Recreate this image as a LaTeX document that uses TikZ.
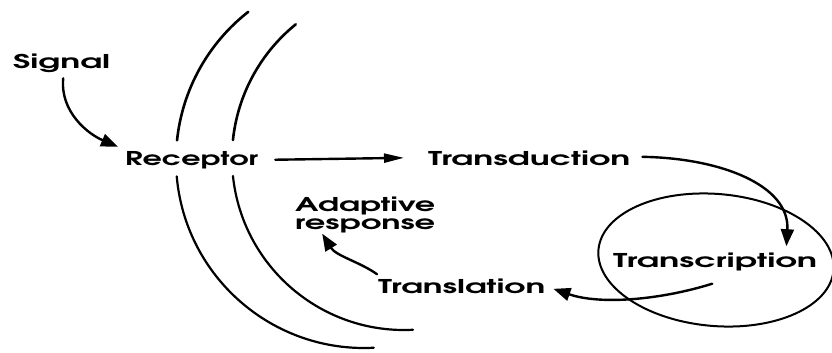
\documentclass[tikz,border=0pt]{standalone}
\usepackage{fontspec}
\usepackage{graphicx}
\IfFontExistsTF{TeX Gyre Adventor}{\setmainfont{TeX Gyre Adventor}}{\setmainfont{Poppins}}
\usetikzlibrary{arrows.meta}
\newcommand{\wtxt}[2]{\resizebox{#1pt}{\height}{#2}}
\begin{document}
\begin{tikzpicture}[x=1pt,y=-1pt,line cap=round,
  lbl/.style={anchor=base west,inner sep=0pt,font=\fontsize{19}{18}\selectfont\bfseries},
  mem/.style={line width=2.6pt},
  cell/.style={line width=2pt},
  conn/.style={line width=2.4pt,-{Triangle[length=17pt,width=13pt]}},
  thinhead/.style={-{Triangle[length=20pt,width=9pt]}}]
\useasboundingbox (0,0) rectangle (832,353);
% labels
\node[lbl] (signal) at (13,68) {\wtxt{97}{Signal}};
\node[lbl] (receptor) at (125,165) {\wtxt{133}{Receptor}};
\node[lbl] (transduction) at (428,165) {\wtxt{202}{Transduction}};
\node[lbl] (transcription) at (613,267) {\wtxt{204}{Transcription}};
\node[lbl] (translation) at (378,293) {\wtxt{167}{Translation}};
\node[lbl] (adaptive) at (295,211) {\vtop{\hbox{\wtxt{140}{Adaptive}}\hbox{\wtxt{140}{response}}}};
% membrane
\draw[mem] (364,160) ++(232:188) arc[start angle=232,end angle=186,radius=188];
\draw[mem,line width=2.2pt] (364,160) ++(175:188) arc[start angle=175,end angle=87,radius=188];
\draw[mem] (404,158) ++(231:172) arc[start angle=231,end angle=186,radius=172];
\draw[mem,line width=2.2pt] (404,158) ++(174:172) arc[start angle=174,end angle=87,radius=172];
% nucleus
\draw[cell,rotate around={-5:(716,260)}] (716,260) ellipse [x radius=118,y radius=66];
% connectors
\draw[conn] ([xshift=1.5pt,yshift=-6pt]signal.south) .. controls (60,112) and (88,134) .. ([xshift=-7pt,yshift=4pt]receptor.north west);
\draw[conn,thinhead] ([xshift=17pt]receptor.east) -- ([xshift=-24pt]transduction.west);
\draw[conn] ([xshift=12pt,yshift=1pt]transduction.east) .. controls (720,158) and (790,185) .. ([xshift=-31pt,yshift=6pt]transcription.north east);
\draw[conn] ([xshift=-3pt,yshift=-13pt]transcription.south) .. controls (660,300) and (600,305) .. ([xshift=8pt,yshift=-3pt]translation.east);
\draw[conn] ([xshift=-1pt,yshift=4pt]translation.north west) .. controls (360,262) and (336,256) .. ([xshift=-43pt,yshift=-1pt]adaptive.south);
\end{tikzpicture}
\end{document}
